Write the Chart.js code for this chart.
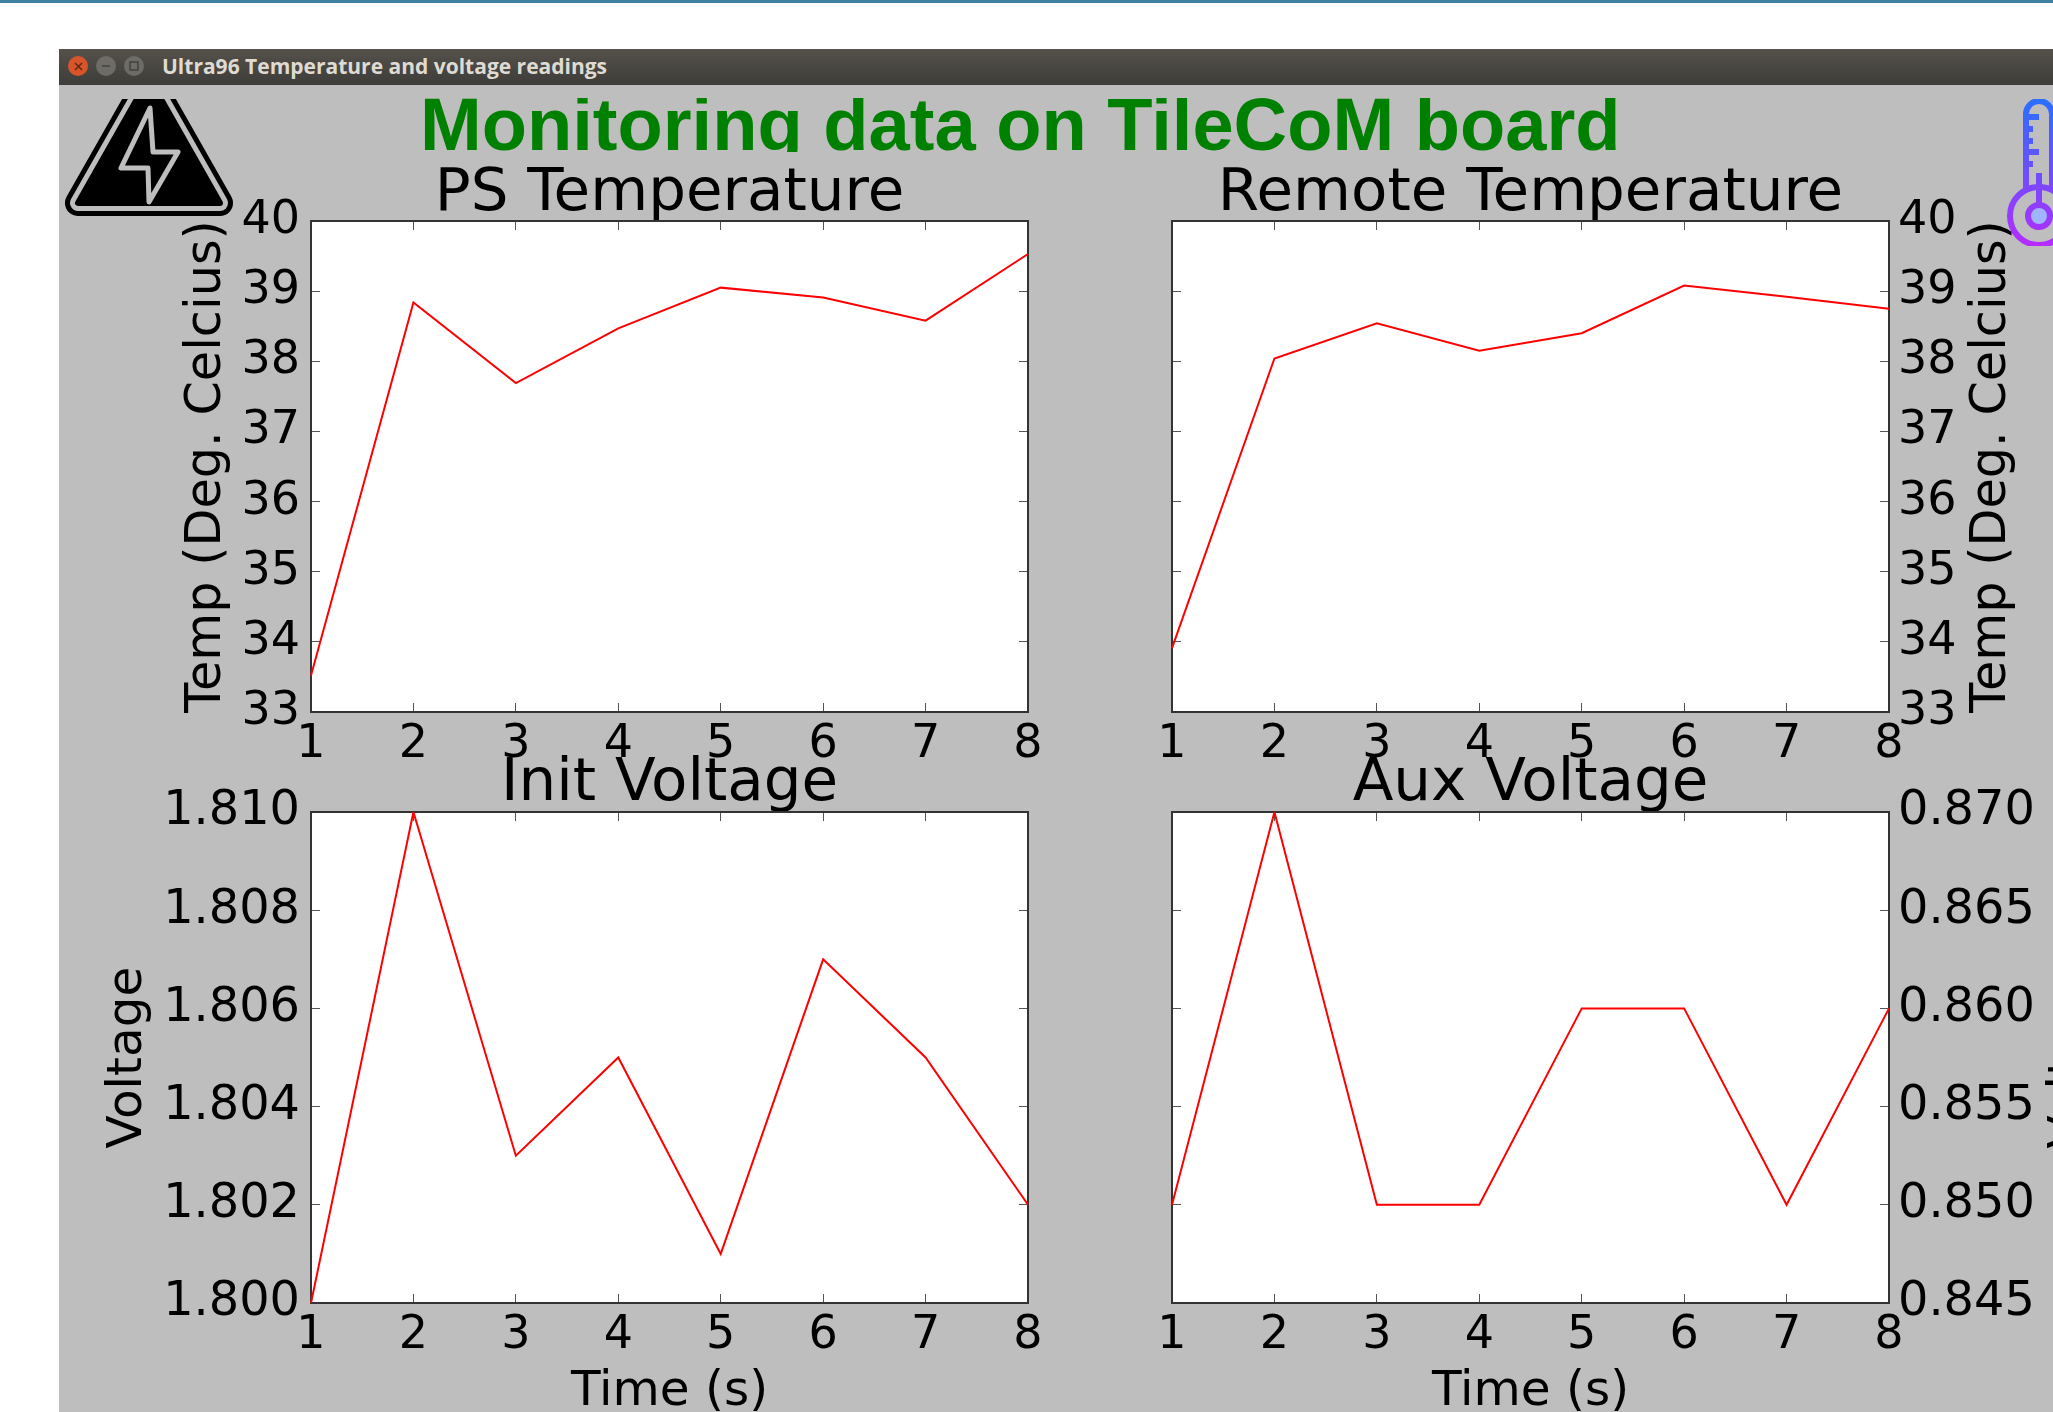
<!DOCTYPE html>
<html>
<head>
<meta charset="utf-8">
<title>Ultra96 Temperature and voltage readings</title>
<script src="https://cdn.jsdelivr.net/npm/chart.js@4"></script>
<style>
  html, body { margin: 0; padding: 0; background: #fff; }
  #page { position: relative; width: 2053px; height: 1412px; overflow: hidden; background: #fff; }
  #topStrip { position: absolute; left: 0; top: 0; width: 2053px; height: 3px; background: #3f7f9f; }
  #win { position: absolute; left: 59px; top: 85px; width: 1994px; height: 1327px; background: #bebebe; }
  #bar { position: absolute; left: 59px; top: 49px; width: 1994px; height: 36px; background: linear-gradient(#55514b, #3e3d39); }
  #barTitle { position: absolute; left: 162px; top: 52px; font: bold 21px "Open Sans", sans-serif; color: #dfdbd2; white-space: nowrap; }
  .btn { position: absolute; top: 56px; width: 20px; height: 20px; border-radius: 50%; background: #6e6c66; }
  #headClip { position: absolute; left: 0; top: 98px; width: 2053px; height: 54px; overflow: hidden; }
  #head { position: absolute; left: 420px; top: -15px; font: bold 74.1px "Liberation Sans", sans-serif; color: #008000; white-space: nowrap; line-height: 84px; }
  #icons { position: absolute; left: 0; top: 0; }
  canvas { position: absolute; }
</style>
</head>
<body>
<div id="page">
  <div id="topStrip"></div>
  <div id="win"></div>
  <div id="bar"></div>
  <div class="btn" style="left:68px;background:#d8552c"></div>
  <div class="btn" style="left:96px"></div>
  <div class="btn" style="left:124px"></div>
  <div id="barTitle">Ultra96 Temperature and voltage readings</div>
  <div id="headClip"><div id="head">Monitoring data on TileCoM board</div></div>
  <svg id="icons" width="2053" height="1412">
    <defs>
      <clipPath id="iconClip"><rect x="0" y="99" width="2053" height="147"></rect></clipPath>
      <linearGradient id="thermo" gradientUnits="userSpaceOnUse" x1="0" y1="99" x2="0" y2="245">
        <stop offset="0" stop-color="#2a6fff"></stop>
        <stop offset="1" stop-color="#b42cff"></stop>
      </linearGradient>
    </defs>
    <path d="M75,63 L82,70 M82,63 L75,70" stroke="#5a2a18" stroke-width="1.5" fill="none"></path>
    <path d="M102,66 H110" stroke="#44423e" stroke-width="1.5" fill="none"></path>
    <rect x="130" y="62" width="8" height="8" stroke="#44423e" stroke-width="1.5" fill="none"></rect>
    <g clip-path="url(#iconClip)">
      <g stroke-linejoin="round">
        <polygon points="149,78 78,203 220,203" fill="#000" stroke="#000" stroke-width="26"></polygon>
        <polygon points="149,78 78,203 220,203" fill="#bebebe" stroke="#bebebe" stroke-width="16"></polygon>
        <polygon points="149,78 78,203 220,203" fill="#000" stroke="#000" stroke-width="6"></polygon>
        <polygon points="150,108 121,168 148,168 149,202 178,152 153,152" fill="#000" stroke="#bebebe" stroke-width="5"></polygon>
      </g>
      <g fill="none" stroke="url(#thermo)" stroke-width="6">
        <path d="M2026,192 V114 A13,13 0 0 1 2052,114 V192"></path>
        <circle cx="2039" cy="216" r="29"></circle>
        <path d="M2039,173 V204"></path>
        <path d="M2026,117 H2039 M2026,129 H2033 M2026,141 H2033 M2026,152 H2039 M2026,164 H2033"></path>
        <circle cx="2039" cy="216" r="11" fill="#a0b4ff"></circle>
      </g>
    </g>
  </svg>
  <canvas id="psTemp" width="1199" height="680" style="left:70px;top:120px"></canvas>
  <canvas id="remoteTemp" width="1139" height="680" style="left:961px;top:120px"></canvas>
  <canvas id="initVolt" width="1199" height="682" style="left:70px;top:730px"></canvas>
  <canvas id="auxVolt" width="1139" height="682" style="left:961px;top:730px"></canvas>
</div>

<script>
const timeLabels = [1, 2, 3, 4, 5, 6, 7, 8];
const psTemperature = [33.52, 38.84, 37.69, 38.47, 39.05, 38.91, 38.58, 39.53];
const remoteTemperature = [33.91, 38.04, 38.54, 38.15, 38.4, 39.08, 38.92, 38.75];
const initVoltage = [1.8, 1.81, 1.803, 1.805, 1.801, 1.807, 1.805, 1.802];
const auxVoltage = [0.85, 0.87, 0.85, 0.85, 0.86, 0.86, 0.85, 0.86];

const titleFont = { family: "DejaVu Sans", size: 59.5, lineHeight: 0.8, weight: "normal" };
const edgeColor = "#333333";
const tickMarkColor = "#555555";

// white plot background, plus the y label on the right hand plots (it reads upwards there)
const panelPlugin = {
  id: "panelPlugin",
  beforeDraw(chart, args, opts) {
    const area = chart.chartArea;
    chart.ctx.fillStyle = "#ffffff";
    chart.ctx.fillRect(area.left, area.top, area.width, area.height);
  },
  afterDraw(chart, args, opts) {
    if (!opts.sideLabel) return;
    const area = chart.chartArea;
    const ctx = chart.ctx;
    ctx.save();
    ctx.translate(opts.sideLabelX, (area.top + area.bottom) / 2);
    ctx.rotate(-Math.PI / 2);
    ctx.font = opts.sideLabelSize + "px 'DejaVu Sans'";
    ctx.fillStyle = "#000000";
    ctx.textAlign = "center";
    ctx.textBaseline = "middle";
    ctx.fillText(opts.sideLabel, 0, 0);
    ctx.restore();
  },
};

function fixedSize(size) {
  return (scale) => {
    if (scale.isHorizontal()) scale.height = size;
    else scale.width = size;
  };
}

function edgeAxis(position, size, extra) {
  return Object.assign(
    {
      position: position,
      afterFit: fixedSize(size),
      border: { display: true, color: edgeColor, width: 2 },
      grid: { drawOnChartArea: false, drawTicks: true, tickLength: -9, tickColor: tickMarkColor, tickWidth: 1 },
    },
    extra
  );
}

function makePanel(id, cfg) {
  const yRange = { type: "linear", min: cfg.min, max: cfg.max, ticks: { stepSize: cfg.step, display: false } };
  const yLabelled = {
    type: "linear",
    min: cfg.min,
    max: cfg.max,
    ticks: {
      stepSize: cfg.step,
      color: "#000000",
      font: { family: "DejaVu Sans", size: cfg.tickSize, lineHeight: 1 },
      padding: cfg.right ? 18 : 20,
      callback: (value) => value.toFixed(cfg.decimals),
    },
  };
  if (cfg.yTitle) {
    yLabelled.title = {
      display: true,
      text: cfg.yTitle,
      color: "#000000",
      font: { family: "DejaVu Sans", size: cfg.yTitleSize, lineHeight: 1 },
      padding: { top: cfg.yTitlePad, bottom: 0 },
    };
  }

  const xAxis = {
    type: "category",
    ticks: { color: "#000000", font: { family: "DejaVu Sans", size: 46, lineHeight: 1 }, padding: 19, autoSkip: false, maxRotation: 0 },
  };
  if (cfg.xTitle) {
    xAxis.title = {
      display: true,
      text: cfg.xTitle,
      color: "#000000",
      font: { family: "DejaVu Sans", size: 48.5, lineHeight: 0.8 },
      padding: { top: 0, bottom: 0 },
    };
  }

  const scales = {
    x: edgeAxis("bottom", cfg.below, xAxis),
    xTop: edgeAxis("top", 0, { type: "category", ticks: { display: false } }),
  };
  // labelled y axis sits on the left for the left plots, on the right for the right plots
  scales.y = edgeAxis(cfg.right ? "right" : "left", cfg.side, yLabelled);
  scales.yOther = edgeAxis(cfg.right ? "left" : "right", cfg.side, yRange);

  return new Chart(document.getElementById(id), {
    type: "line",
    data: {
      labels: timeLabels,
      datasets: [
        {
          data: cfg.values,
          borderColor: "#ff0000",
          borderWidth: 2,
          tension: 0,
          pointRadius: 0,
          xAxisID: "x",
          yAxisID: "y",
        },
      ],
    },
    options: {
      responsive: false,
      animation: false,
      layout: { padding: 0 },
      scales: scales,
      plugins: {
        legend: { display: false },
        tooltip: { enabled: false },
        title: {
          display: true,
          text: cfg.title,
          color: "#000000",
          font: titleFont,
          padding: { top: cfg.titleTop, bottom: cfg.titleBottom },
        },
        panelPlugin: { sideLabel: cfg.sideLabel, sideLabelX: cfg.sideLabelX, sideLabelSize: cfg.sideLabelSize },
      },
    },
    plugins: [panelPlugin],
  });
}

makePanel("psTemp", {
  title: "PS Temperature", values: psTemperature, min: 33, max: 40, step: 1, decimals: 0, tickSize: 46,
  side: 241, below: 88, titleTop: 51.2, titleBottom: 2.2,
  yTitle: "Temp (Deg. Celcius)", yTitleSize: 49.3, yTitlePad: 113,
});
makePanel("remoteTemp", {
  title: "Remote Temperature", values: remoteTemperature, min: 33, max: 40, step: 1, decimals: 0, tickSize: 46,
  side: 211, below: 88, titleTop: 51.2, titleBottom: 2.2, right: true,
  sideLabel: "Temp (Deg. Celcius)", sideLabelX: 1031, sideLabelSize: 49.3,
});
makePanel("initVolt", {
  title: "Init Voltage", values: initVoltage, min: 1.8, max: 1.81, step: 0.002, decimals: 3, tickSize: 47.8,
  side: 241, below: 109, titleTop: 31, titleBottom: 3.4, xTitle: "Time (s)",
  yTitle: "Voltage", yTitleSize: 48.5, yTitlePad: 34,
});
makePanel("auxVolt", {
  title: "Aux Voltage", values: auxVoltage, min: 0.845, max: 0.87, step: 0.005, decimals: 3, tickSize: 47.8,
  side: 211, below: 109, titleTop: 31, titleBottom: 3.4, xTitle: "Time (s)", right: true,
  sideLabel: "Voltage", sideLabelX: 1108, sideLabelSize: 48.5,
});
</script>
</body>
</html>
